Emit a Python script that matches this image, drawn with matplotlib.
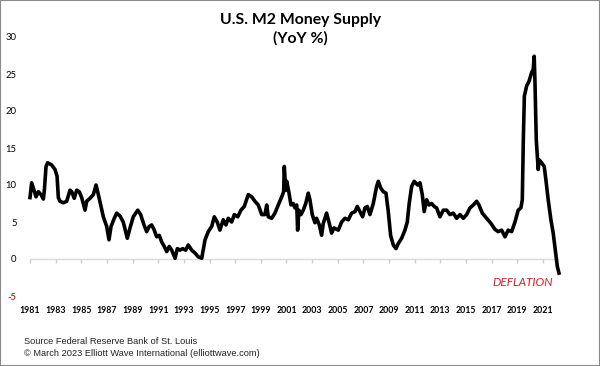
import matplotlib
matplotlib.use("Agg")
import matplotlib.pyplot as plt
from matplotlib.patches import Rectangle

# M2 money supply, YoY % (x in chart-axis years)
years = [
    1981.00, 1981.13, 1981.31, 1981.47, 1981.65, 1981.86, 1982.04, 1982.12, 1982.25, 1982.38,
    1982.69, 1982.95, 1983.11, 1983.21, 1983.34, 1983.60, 1983.86, 1984.12, 1984.25, 1984.45,
    1984.64, 1984.84, 1985.03, 1985.29, 1985.42, 1985.68, 1985.94, 1986.15, 1986.33, 1986.54,
    1986.72, 1986.98, 1987.16, 1987.32, 1987.57, 1987.76, 1988.02, 1988.27, 1988.59, 1988.80,
    1989.05, 1989.40, 1989.63, 1989.89, 1990.10, 1990.30, 1990.49, 1990.69, 1990.88, 1991.08,
    1991.27, 1991.47, 1991.66, 1991.86, 1992.05, 1992.31, 1992.49, 1992.70, 1992.91, 1993.14,
    1993.34, 1993.61, 1993.87, 1994.12, 1994.39, 1994.65, 1994.90, 1995.17, 1995.37, 1995.60,
    1995.81, 1996.07, 1996.28, 1996.46, 1996.73, 1996.93, 1997.20, 1997.45, 1997.71, 1998.02,
    1998.29, 1998.54, 1998.80, 1999.07, 1999.32, 1999.46, 1999.58, 1999.85, 2000.10, 2000.36,
    2000.63, 2000.78, 2000.83, 2000.94, 2001.02, 2001.20, 2001.35, 2001.53, 2001.66, 2001.80,
    2001.87, 2001.97, 2002.13, 2002.31, 2002.50, 2002.70, 2002.83, 2003.01, 2003.22, 2003.35,
    2003.56, 2003.74, 2003.87, 2004.13, 2004.34, 2004.52, 2004.70, 2005.04, 2005.30, 2005.56,
    2005.82, 2006.08, 2006.34, 2006.52, 2006.73, 2006.94, 2007.12, 2007.30, 2007.51, 2007.77,
    2008.03, 2008.16, 2008.35, 2008.55, 2008.76, 2008.94, 2009.12, 2009.33, 2009.54, 2009.72,
    2009.98, 2010.24, 2010.42, 2010.57, 2010.76, 2010.96, 2011.23, 2011.41, 2011.59, 2011.74,
    2011.93, 2012.11, 2012.32, 2012.52, 2012.71, 2012.97, 2013.23, 2013.49, 2013.75, 2014.01,
    2014.27, 2014.53, 2014.79, 2015.05, 2015.31, 2015.57, 2015.83, 2016.01, 2016.27, 2016.61,
    2016.95, 2017.26, 2017.51, 2017.78, 2018.04, 2018.29, 2018.56, 2018.82, 2019.07, 2019.28,
    2019.39, 2019.47, 2019.55, 2019.73, 2019.91, 2020.12, 2020.24, 2020.32, 2020.38, 2020.48,
    2020.63, 2020.71, 2020.90, 2021.10, 2021.23, 2021.41, 2021.62, 2021.80, 2021.99, 2022.12,
    2022.25,
]
yoy = [
    8.3, 10.3, 9.3, 8.4, 9.1, 8.7, 8.1, 9.3, 12.5, 13.0,
    12.7, 12.1, 11.2, 8.3, 7.8, 7.6, 7.8, 9.3, 9.1, 8.2,
    9.3, 9.1, 8.3, 6.6, 7.8, 8.2, 8.7, 10.0, 8.7, 7.1,
    5.7, 4.4, 2.6, 4.4, 5.5, 6.2, 5.8, 5.0, 2.8, 4.2,
    5.7, 6.6, 6.0, 4.6, 3.7, 4.4, 4.6, 3.9, 3.0, 3.2,
    2.3, 1.7, 1.0, 1.7, 1.2, 0.1, 1.4, 1.2, 1.4, 1.2,
    1.9, 1.2, 0.8, 0.3, 0.1, 2.6, 3.7, 4.4, 5.7, 5.0,
    3.9, 5.3, 4.6, 5.5, 5.0, 6.0, 5.7, 6.6, 7.1, 8.7,
    8.4, 7.8, 7.3, 6.0, 6.0, 7.3, 5.7, 5.5, 6.2, 7.3,
    8.4, 9.1, 12.5, 9.3, 10.5, 8.9, 7.3, 7.5, 6.9, 7.3,
    3.9, 6.6, 6.0, 6.6, 7.5, 8.9, 8.0, 6.0, 4.9, 5.5,
    4.6, 3.2, 4.8, 6.2, 4.8, 3.5, 4.2, 3.9, 5.0, 5.5,
    5.3, 6.2, 6.4, 7.1, 6.4, 5.7, 6.9, 7.1, 6.0, 7.5,
    9.8, 10.5, 9.6, 9.1, 8.9, 6.4, 3.2, 1.9, 1.4, 2.1,
    2.8, 3.9, 5.0, 7.5, 9.8, 10.5, 10.0, 10.3, 8.7, 6.4,
    8.0, 7.3, 7.5, 7.1, 6.9, 5.7, 6.6, 6.6, 6.0, 6.2,
    5.5, 6.0, 5.5, 6.0, 6.9, 7.3, 7.8, 7.3, 6.2, 5.5,
    4.8, 4.0, 3.7, 3.9, 3.0, 3.9, 3.7, 5.0, 6.6, 6.9,
    8.0, 16.1, 22.0, 23.4, 24.0, 25.2, 25.6, 27.4, 23.8, 16.1,
    12.1, 13.4, 13.0, 12.5, 10.7, 8.0, 5.3, 3.5, 0.8, -1.0,
    -1.9,
]

x_ticks = [1981, 1983, 1985, 1987, 1989, 1991, 1993, 1995, 1997, 1999, 2001,
           2003, 2005, 2007, 2009, 2011, 2013, 2015, 2017, 2019, 2021]
x_labels = [str(y) for y in x_ticks]
y_ticks = [-5, 0, 5, 10, 15, 20, 25, 30]

W, H = 600, 366
RED = "#d4202a"

fig = plt.figure(figsize=(W / 100, H / 100), dpi=100)
fig.patch.set_facecolor("white")
ax = fig.add_axes([25 / W, 1 - 296 / H, 545 / W, 259 / H])
ax.set_xlim(1980.61, 2023.11)
ax.set_ylim(-5, 30)

# zero line with small tick marks every two years
ax.hlines(0, years[0], years[-1], color="#d9d9d9", lw=1, zorder=1)
ax.plot(x_ticks, [0] * len(x_ticks), ls="none", marker=3, ms=3,
        mec="#cfcfcf", mew=1, zorder=1)

ax.plot(years, yoy, color="black", lw=2.6, solid_joinstyle="round", zorder=3)

for s in ax.spines.values():
    s.set_visible(False)

ax.set_xticks(x_ticks)
ax.set_xticklabels(x_labels, family="Lato", fontweight="bold", fontsize=6.3)
ax.tick_params(axis="x", length=0, pad=7)
ax.set_yticks(y_ticks)
ax.set_yticklabels([str(v) for v in y_ticks], family="Lato", fontsize=6.8)
ax.tick_params(axis="y", length=0, pad=6)
for lab, v in zip(ax.get_yticklabels(), y_ticks):
    if v < 0:
        lab.set_color(RED)
        lab.set_fontweight("bold")

fig.text(0.5, 1 - 20 / H, "U.S. M2 Money Supply", ha="center", va="center",
         family="Lato", fontweight="bold", fontsize=11.3)
fig.text(0.5, 1 - 38 / H, "(YoY %)", ha="center", va="center",
         family="Lato", fontweight="bold", fontsize=11.3)

fig.text(523 / W, 1 - 283 / H, "DEFLATION", ha="center", va="center",
         family="Lato", style="italic", fontsize=8.5, color=RED)

fig.text(24 / W, 1 - 341 / H, "Source Federal Reserve Bank of St. Louis",
         ha="left", va="center", family="Liberation Sans", fontsize=6.7, color="#222222")
fig.text(24 / W, 1 - 353 / H, "\u00a9 March 2023 Elliott Wave International (elliottwave.com)",
         ha="left", va="center", family="Liberation Sans", fontsize=6.7, color="#222222")

fig.add_artist(Rectangle((0, 0), 1, 1, transform=fig.transFigure, fill=False,
                         ec="#8a8a8a", lw=1.5))

fig.savefig("out.png", dpi=100, facecolor="white")
